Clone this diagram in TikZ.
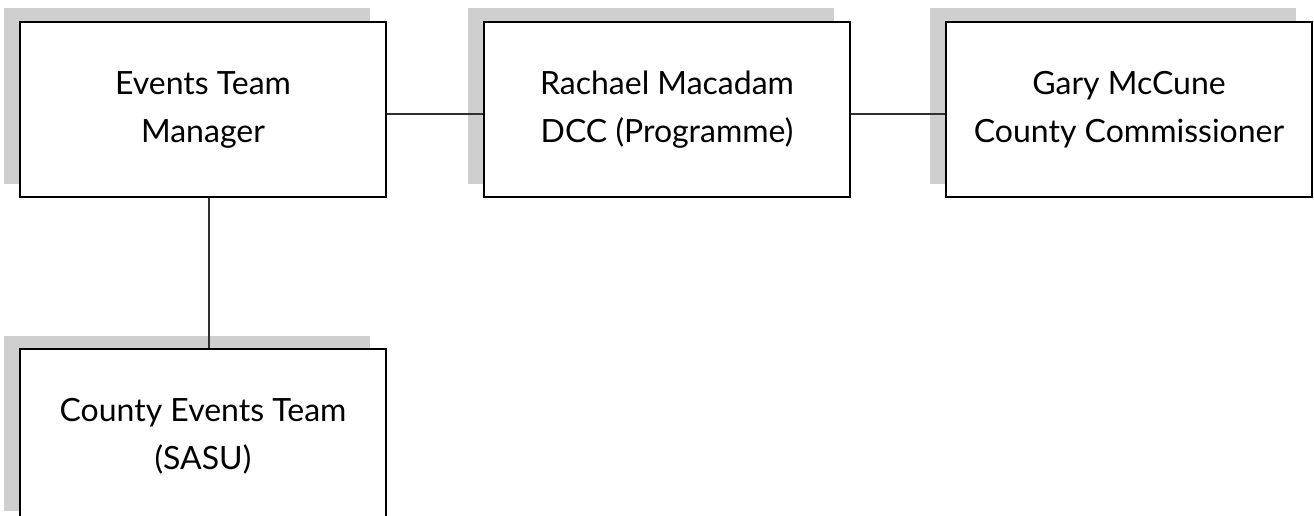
\documentclass[tikz,border=0pt]{standalone}
\usepackage{fontspec}
\setmainfont{Lato}
\usetikzlibrary{shadows}
\definecolor{shadowgray}{HTML}{CFCFCF}
\definecolor{linegray}{HTML}{303030}
\tikzset{
  orgbox/.style={draw=black, line width=2pt, fill=white, minimum width=366pt,
    minimum height=175pt, inner sep=0pt, align=center,
    font=\fontsize{32}{48}\selectfont,
    general shadow={fill=shadowgray, draw=none, shadow xshift=-16pt, shadow yshift=13.5pt}},
  link/.style={draw=linegray, line width=1.4pt}
}
\begin{document}
\begin{tikzpicture}[x=1pt,y=1pt]
\useasboundingbox (0,0) rectangle (1314,-516);
\clip (0,0) rectangle (1314,-516);
\node[orgbox] (etm) at (203,-109.5) {Events Team\\Manager};
\node[orgbox] (rm) at (667,-109.5) {Rachael Macadam\\DCC (Programme)};
\node[orgbox] (gm) at (1129,-109.5) {Gary McCune\\County Commissioner};
\node[orgbox] (cet) at (203,-436.5) {County Events Team\\(SASU)};
\draw[link] ([yshift=-4.5pt]etm.east) -- ([yshift=-4.5pt]rm.west);
\draw[link] ([yshift=-4.5pt]rm.east) -- ([yshift=-4.5pt]gm.west);
\draw[link] ([xshift=6pt]etm.south) -- ([xshift=6pt]cet.north);
\end{tikzpicture}
\end{document}
